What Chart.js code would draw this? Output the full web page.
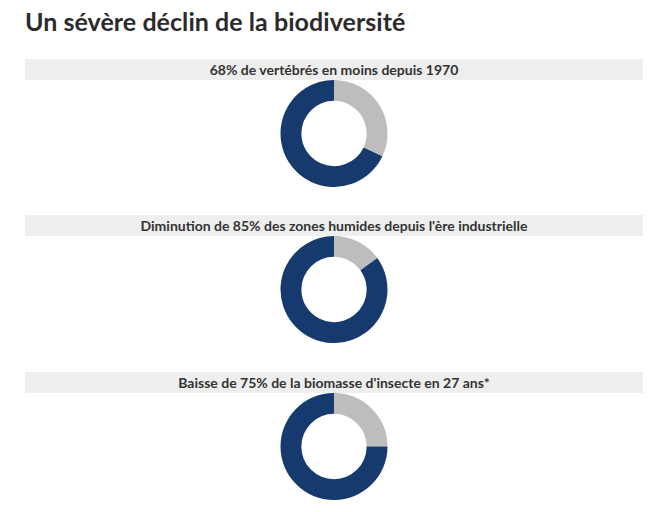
<!DOCTYPE html>
<html>
<head>
<meta charset="utf-8">
<script src="https://cdn.jsdelivr.net/npm/chart.js@4"></script>
<style>
  body { margin: 0; background: #fff; font-family: Lato, "Open Sans", sans-serif; color: #333; }
  #wrap { position: relative; width: 660px; height: 512px; }
  h1 { position: absolute; left: 25px; top: 6px; margin: 0; font-size: 25px; font-weight: 700; color: #2b2b2b; letter-spacing: 0.05px; }
  .head { position: absolute; left: 25px; width: 618px; height: 21px; background: #eeeeee; font-size: 14px; font-weight: 700; text-align: center; line-height: 21px; color: #333; }
  .box { position: absolute; left: 25px; width: 618px; height: 107px; }
</style>
</head>
<body>
<div id="wrap">
  <h1>Un sévère déclin de la biodiversité</h1>
</div>
<script>
const titles = [
  '68% de vertébrés en moins depuis 1970',
  "Diminution de 85% des zones humides depuis l'ère industrielle",
  "Baisse de 75% de la biomasse d'insecte en 27 ans*"
];
const labels = ['Reste', 'Perte'];
const lost = [68, 85, 75];
const remaining = [32, 15, 25];
const colors = ['#bdbdbd', '#173a6e'];
const tops = [59, 215, 372];

const wrap = document.getElementById('wrap');

titles.forEach((t, i) => {
    const head = document.createElement('div');
    head.className = 'head';
    head.style.top = tops[i] + 'px';
    head.textContent = t;
    wrap.appendChild(head);

    const box = document.createElement('div');
    box.className = 'box';
    box.style.top = (tops[i] + 21) + 'px';
    const canvas = document.createElement('canvas');
    box.appendChild(canvas);
    wrap.appendChild(box);

    new Chart(canvas.getContext('2d'), {
        type: 'doughnut',
        data: {
            labels: labels,
            datasets: [{
                data: [remaining[i], lost[i]],
                backgroundColor: colors,
                borderWidth: 0
            }]
        },
        options: {
            responsive: true,
            maintainAspectRatio: false,
            animation: false,
            cutout: '61%',
            layout: { padding: 0 },
            plugins: {
                legend: { display: false },
                tooltip: { enabled: false }
            }
        }
    });
});
</script>
</body>
</html>
